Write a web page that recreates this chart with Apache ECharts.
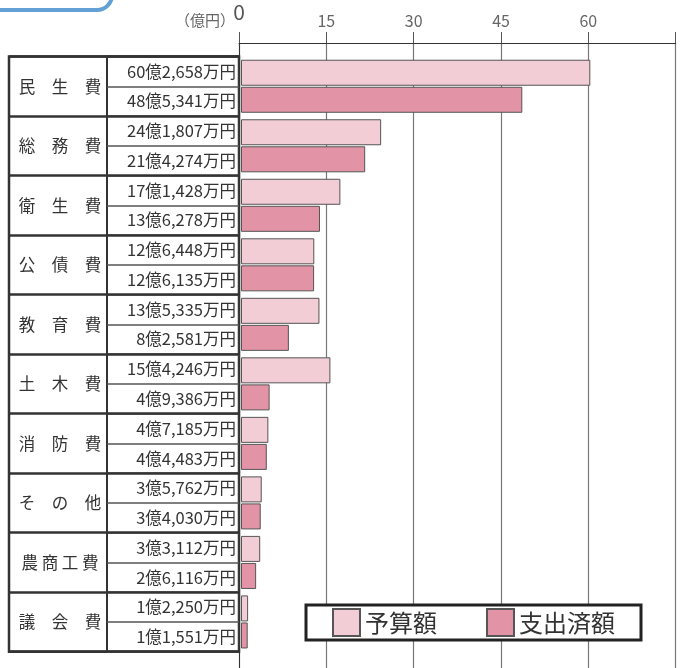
<!DOCTYPE html>
<html><head><meta charset="utf-8">
<script src="https://cdn.jsdelivr.net/npm/echarts@6/dist/echarts.min.js"></script>
<style>html,body{margin:0;padding:0;background:#fff}#c{width:681px;height:668px}</style>
</head><body><div id="c"></div>
<script>
const categories = ['民生費','総務費','衛生費','公債費','教育費','土木費','消防費','その他','農商工費','議会費'];
// values in 万円
const budget = [602658, 241807, 171428, 126448, 135335, 154246, 47185, 35762, 33112, 12250];
const spent  = [485341, 214274, 136278, 126135, 82581, 49386, 44483, 34030, 26116, 11551];
const seriesNames = ['予算額','支出済額'];
const xTicks = [0, 15, 30, 45, 60, 75];
const unitLabel = '（億円）';

const FONT = '"Noto Sans CJK JP", "Noto Sans", sans-serif';
function fmt(v){
  const oku = Math.floor(v/10000), man = v % 10000;
  const s = String(man).padStart(4,'0');
  return oku + '億' + s[0] + ',' + s.slice(1) + '万円';
}
const rowLabels = [];
categories.forEach((c,i)=>{ rowLabels.push(fmt(budget[i])); rowLabels.push(fmt(spent[i])); });

const G = {top:43, bottom:0, left:239, right:5.3};
const B = {top:56.5, bottom:16.3};

const chart = echarts.init(document.getElementById('c'));
chart.setOption({
  animation:false,
  textStyle:{fontFamily:FONT},
  title:{text:unitLabel, left:170, top:8, textStyle:{fontSize:15, fontWeight:'normal', color:'#666', fontFamily:FONT}},
  graphic:[{type:'rect', shape:{x:-30, y:-40, width:142, height:50, r:15}, style:{fill:'none', stroke:'#62a0d6', lineWidth:4}}],
  legend:{data:seriesNames, left:306, top:605, orient:'horizontal', backgroundColor:'#fff', borderColor:'#222', borderWidth:3,
    padding:[3,26,3,26], itemWidth:27, itemHeight:27, itemGap:49, z:20, icon:'rect',
    textStyle:{fontSize:24, color:'#333', fontFamily:FONT}},
  grid:[
    {left:G.left, right:G.right, top:G.top, bottom:G.bottom},
    {left:G.left + 2, right:G.right, top:B.top, bottom:B.bottom},
    {left:9, right:681-239, top:B.top, bottom:B.bottom, show:true, backgroundColor:'#fff', borderColor:'#333', borderWidth:2.5},
    {left:107, right:681-239, top:B.top, bottom:B.bottom, show:true, borderColor:'#333', borderWidth:2}
  ],
  xAxis:[
    {gridIndex:0, type:'value', position:'top', min:xTicks[0], max:xTicks[xTicks.length-1], interval:15,
      axisLine:{show:true, lineStyle:{color:'#333', width:1}},
      axisTick:{show:true, length:11, lineStyle:{color:'#555'}},
      splitLine:{show:true, lineStyle:{color:'#777', width:1.2}},
      axisLabel:{margin:14, fontSize:16, color:'#666', fontFamily:FONT,
        formatter:(v)=> v===xTicks[xTicks.length-1] ? '' : (v===0 ? '{big|0}' : String(v)),
        rich:{big:{fontSize:21, color:'#555', padding:[0,0,6,0], fontFamily:FONT}}}},
    {gridIndex:1, type:'value', min:xTicks[0], max:xTicks[xTicks.length-1], show:false},
    {gridIndex:2, type:'value', min:0, max:1, show:false},
    {gridIndex:3, type:'value', min:0, max:1, show:false}
  ],
  yAxis:[
    {gridIndex:0, type:'category', data:[''], axisLine:{show:true, lineStyle:{color:'#333'}}, axisTick:{show:false}, axisLabel:{show:false}},
    {gridIndex:1, type:'category', data:categories, inverse:true, show:false},
    {gridIndex:2, type:'category', data:categories, inverse:true, position:'left', z:5,
      axisLine:{show:false}, axisTick:{show:false},
      splitLine:{show:true, interval:0, lineStyle:{color:'#333', width:2.5}},
      axisLabel:{inside:true, align:'center', margin:51, interval:0, fontSize:16.5, color:'#333', fontFamily:FONT,
        formatter:(v)=> v.length===3 ? v.split('').join('　') : v.split('').join(' ')}},
    {gridIndex:3, type:'category', data:rowLabels, inverse:true, position:'right', z:4,
      axisLine:{show:false}, axisTick:{show:false},
      splitLine:{show:true, interval:0, lineStyle:{color:'#555', width:1.5}},
      axisLabel:{inside:true, align:'right', margin:3, interval:0, fontSize:16.5, color:'#333', fontFamily:FONT}}
  ],
  series:[
    {name:seriesNames[0], type:'bar', xAxisIndex:1, yAxisIndex:1, data:budget.map(v=>v/10000),
      barWidth:26, barGap:'4%', itemStyle:{color:'#f2cdd6', borderColor:'#555', borderWidth:1}},
    {name:seriesNames[1], type:'bar', xAxisIndex:1, yAxisIndex:1, data:spent.map(v=>v/10000),
      barWidth:26, barGap:'4%', itemStyle:{color:'#e293a6', borderColor:'#555', borderWidth:1}}
  ]
});
</script></body></html>
